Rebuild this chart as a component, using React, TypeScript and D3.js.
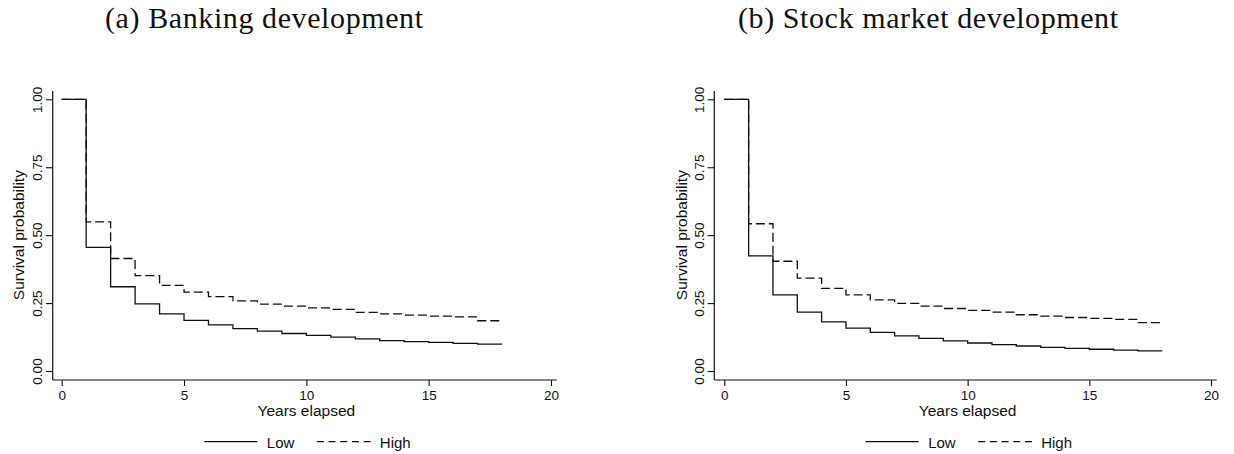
import * as d3 from "d3";
import { useEffect, useRef } from "react";

// survival estimates at years 0..17, the step runs to year 18
const years = [0, 1, 2, 3, 4, 5, 6, 7, 8, 9, 10, 11, 12, 13, 14, 15, 16, 17];
const endYear = 18;

const bankLow = [1.0, 0.455, 0.31, 0.247, 0.21, 0.186, 0.17, 0.156, 0.147, 0.138, 0.131, 0.125, 0.118, 0.112, 0.108, 0.105, 0.102, 0.099];
const bankHigh = [1.0, 0.549, 0.414, 0.351, 0.315, 0.29, 0.274, 0.258, 0.246, 0.239, 0.232, 0.227, 0.216, 0.21, 0.206, 0.202, 0.199, 0.185];
const stockLow = [1.0, 0.424, 0.28, 0.217, 0.181, 0.158, 0.142, 0.129, 0.12, 0.111, 0.103, 0.097, 0.092, 0.087, 0.083, 0.08, 0.077, 0.074];
const stockHigh = [1.0, 0.542, 0.404, 0.342, 0.304, 0.28, 0.262, 0.249, 0.239, 0.23, 0.223, 0.217, 0.207, 0.202, 0.197, 0.194, 0.19, 0.178];

const xTicks = [0, 5, 10, 15, 20];
const yTicks = [0, 0.25, 0.5, 0.75, 1];
const seriesNames = ["Low", "High"];

const panels = [
  { title: "(a) Banking development", titleX: 105, titleLen: 318, axisX: 52.7, x0: 61.7, x1: 551, labelOff: 28.5, low: bankLow, high: bankHigh },
  { title: "(b) Stock market development", titleX: 738, titleLen: 380, axisX: 714.3, x0: 724.3, x1: 1211, labelOff: 27, low: stockLow, high: stockHigh },
];

const W = 1234;
const H = 454;
const sans = "'Liberation Sans', Arial, Helvetica, sans-serif";
const ink = "#111";

export default function App() {
  const ref = useRef<SVGSVGElement>(null);

  useEffect(() => {
    const svg = d3.select(ref.current);
    svg.selectAll("*").remove();

    const y = d3.scaleLinear().domain([0, 1]).range([371, 99.3]);
    const axisY = 380;

    panels.forEach((p) => {
      const x = d3.scaleLinear().domain([0, 20]).range([p.x0, p.x1]);
      const g = svg.append("g");

      // subfigure title
      g.append("text")
        .attr("x", p.titleX)
        .attr("y", 28)
        .attr("font-family", "'Liberation Serif', 'Times New Roman', serif")
        .attr("font-size", 30)
        .attr("textLength", p.titleLen)
        .attr("lengthAdjust", "spacing")
        .attr("fill", "#111")
        .text(p.title);

      // axis lines
      g.append("line")
        .attr("x1", p.axisX).attr("x2", p.axisX)
        .attr("y1", 91).attr("y2", axisY)
        .attr("stroke", ink).attr("stroke-width", 1.2);
      g.append("line")
        .attr("x1", p.axisX).attr("x2", p.x1 + 5.7)
        .attr("y1", axisY).attr("y2", axisY)
        .attr("stroke", ink).attr("stroke-width", 1.2);

      // y ticks
      const ya = g.append("g")
        .attr("transform", `translate(${p.axisX},0)`)
        .call(d3.axisLeft(y).tickValues(yTicks).tickFormat(d3.format(".2f")).tickSize(6.7));
      ya.select(".domain").remove();
      ya.selectAll("line").attr("stroke", ink).attr("stroke-width", 1.1);
      ya.selectAll("text")
        .attr("transform", "rotate(-90)")
        .attr("x", 0)
        .attr("y", -10.7)
        .attr("dy", 0)
        .attr("text-anchor", "middle")
        .attr("font-family", sans)
        .attr("font-size", 13.5)
        .attr("fill", ink);

      // x ticks
      const xa = g.append("g")
        .attr("transform", `translate(0,${axisY})`)
        .call(d3.axisBottom(x).tickValues(xTicks).tickFormat(d3.format("d")).tickSize(6));
      xa.select(".domain").remove();
      xa.selectAll("line").attr("stroke", ink).attr("stroke-width", 1.1);
      xa.selectAll("text")
        .attr("y", 20)
        .attr("dy", 0)
        .attr("font-family", sans)
        .attr("font-size", 13.5)
        .attr("fill", ink);

      // axis titles
      const cx = (p.x0 + p.x1) / 2;
      g.append("text")
        .attr("x", cx).attr("y", 416)
        .attr("text-anchor", "middle")
        .attr("font-family", sans).attr("font-size", 15.5).attr("fill", ink)
        .text("Years elapsed");
      g.append("text")
        .attr("transform", `translate(${p.axisX - p.labelOff},${(y(0) + y(1)) / 2}) rotate(-90)`)
        .attr("text-anchor", "middle")
        .attr("font-family", sans).attr("font-size", 15.5).attr("fill", ink)
        .text("Survival probability");

      // step curves
      const line = d3.line<[number, number]>()
        .x((d) => x(d[0]))
        .y((d) => y(d[1]))
        .curve(d3.curveStepAfter);
      const pts = (vals: number[]): [number, number][] => {
        const out: [number, number][] = years.map((t, i) => [t, vals[i]]);
        out.push([endYear, vals[vals.length - 1]]);
        return out;
      };
      g.append("path")
        .attr("d", line(pts(p.high)))
        .attr("fill", "none").attr("stroke", ink).attr("stroke-width", 1.3)
        .attr("stroke-dasharray", "9,4");
      g.append("path")
        .attr("d", line(pts(p.low)))
        .attr("fill", "none").attr("stroke", ink).attr("stroke-width", 1.3);

      // legend
      const ly = 441.7;
      g.append("line")
        .attr("x1", cx - 102).attr("x2", cx - 49)
        .attr("y1", ly).attr("y2", ly)
        .attr("stroke", ink).attr("stroke-width", 1.3);
      g.append("text")
        .attr("x", cx - 39.5).attr("y", 448)
        .attr("font-family", sans).attr("font-size", 15).attr("fill", ink)
        .text(seriesNames[0]);
      g.append("line")
        .attr("x1", cx + 10.5).attr("x2", cx + 64.5)
        .attr("y1", ly).attr("y2", ly)
        .attr("stroke", ink).attr("stroke-width", 1.3)
        .attr("stroke-dasharray", "7,4.7");
      g.append("text")
        .attr("x", cx + 73.5).attr("y", 448)
        .attr("font-family", sans).attr("font-size", 15).attr("fill", ink)
        .text(seriesNames[1]);
    });
  }, []);

  return (
    <svg
      ref={ref}
      width={W}
      height={H}
      style={{ position: "absolute", left: 0, top: 0, background: "#fff" }}
    />
  );
}
